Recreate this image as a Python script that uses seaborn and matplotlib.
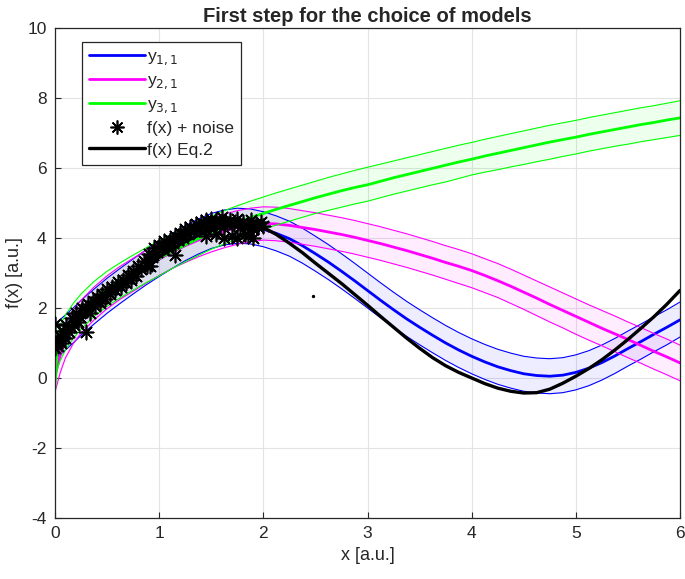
import matplotlib
matplotlib.use("Agg")
import matplotlib.pyplot as plt
from matplotlib.lines import Line2D
import pandas as pd
import seaborn as sns

x_grid = [0.0, 0.02, 0.05, 0.1, 0.175,
          0.25, 0.375, 0.5, 0.625, 0.75, 0.875, 1.0, 1.125, 1.25, 1.375,
          1.5, 1.625, 1.75, 1.875, 2.0, 2.125, 2.25, 2.375, 2.5, 2.625,
          2.75, 2.875, 3.0, 3.125, 3.25, 3.375, 3.5, 3.625, 3.75, 3.875,
          4.0, 4.125, 4.25, 4.375, 4.5, 4.625, 4.75, 4.875, 5.0, 5.125,
          5.25, 5.375, 5.5, 5.625, 5.75, 5.875, 6.0]

# model y_1,1 (blue) and its band
y11 = [1.05, 1.1, 1.17, 1.3, 1.5,
       1.72, 2.04, 2.35, 2.63, 2.9, 3.16, 3.4, 3.63, 3.85, 4.04,
       4.2, 4.3, 4.35, 4.33, 4.25, 4.13, 3.98, 3.78, 3.55, 3.31,
       3.05, 2.78, 2.5, 2.22, 1.95, 1.69, 1.45, 1.22, 1.0, 0.8,
       0.62, 0.46, 0.32, 0.21, 0.12, 0.07, 0.05, 0.08, 0.16, 0.28,
       0.44, 0.63, 0.84, 1.04, 1.25, 1.45, 1.66]
y11_hi = [1.55, 1.6, 1.67, 1.8, 2.0,
          2.22, 2.54, 2.85, 3.13, 3.4, 3.66, 3.9, 4.13, 4.35, 4.54,
          4.7, 4.8, 4.85, 4.83, 4.75, 4.63, 4.48, 4.28, 4.05, 3.81,
          3.55, 3.28, 3.0, 2.72, 2.45, 2.19, 1.95, 1.72, 1.5, 1.3,
          1.12, 0.96, 0.82, 0.71, 0.62, 0.57, 0.55, 0.58, 0.66, 0.78,
          0.94, 1.13, 1.34, 1.54, 1.75, 1.95, 2.17]
y11_lo = [0.55, 0.6, 0.67, 0.8, 1.0,
          1.22, 1.54, 1.85, 2.13, 2.4, 2.66, 2.9, 3.13, 3.35, 3.54,
          3.7, 3.8, 3.85, 3.83, 3.75, 3.63, 3.48, 3.28, 3.05, 2.81,
          2.55, 2.28, 2.0, 1.72, 1.45, 1.19, 0.95, 0.72, 0.5, 0.3,
          0.12, -0.04, -0.18, -0.29, -0.38, -0.43, -0.45, -0.42, -0.34, -0.22,
          -0.06, 0.13, 0.34, 0.54, 0.75, 0.95, 1.17]

# model y_2,1 (magenta)
y21 = [0.05, 0.3, 0.65, 1.05, 1.45,
       1.75, 2.13, 2.45, 2.72, 2.95, 3.18, 3.4, 3.6, 3.78, 3.94,
       4.08, 4.2, 4.3, 4.37, 4.42, 4.4, 4.36, 4.3, 4.24, 4.17,
       4.1, 4.02, 3.93, 3.84, 3.74, 3.64, 3.53, 3.42, 3.3, 3.19,
       3.07, 2.93, 2.78, 2.62, 2.45, 2.28, 2.1, 1.93, 1.76, 1.59,
       1.42, 1.26, 1.1, 0.93, 0.76, 0.6, 0.43]
y21_hi = [0.55, 0.8, 1.15, 1.55, 1.94,
          2.22, 2.6, 2.92, 3.19, 3.42, 3.65, 3.87, 4.07, 4.25, 4.42,
          4.56, 4.68, 4.78, 4.85, 4.89, 4.88, 4.84, 4.78, 4.72, 4.65,
          4.58, 4.5, 4.41, 4.32, 4.22, 4.12, 4.01, 3.9, 3.78, 3.67,
          3.55, 3.41, 3.27, 3.11, 2.94, 2.77, 2.6, 2.43, 2.26, 2.09,
          1.93, 1.77, 1.6, 1.44, 1.27, 1.11, 0.94]
y21_lo = [-0.4, -0.18, 0.15, 0.57, 0.98,
          1.28, 1.66, 1.98, 2.25, 2.48, 2.71, 2.93, 3.13, 3.3, 3.46,
          3.6, 3.72, 3.82, 3.89, 3.94, 3.92, 3.88, 3.82, 3.76, 3.69,
          3.62, 3.54, 3.45, 3.36, 3.26, 3.16, 3.05, 2.94, 2.82, 2.7,
          2.58, 2.44, 2.3, 2.13, 1.96, 1.78, 1.6, 1.43, 1.25, 1.08,
          0.92, 0.75, 0.58, 0.42, 0.25, 0.09, -0.08]

# model y_3,1 (green)
y31 = [0.0, 0.75, 1.0, 1.3, 1.63,
       1.9, 2.26, 2.55, 2.79, 3.01, 3.22, 3.42, 3.62, 3.8, 3.98,
       4.15, 4.3, 4.45, 4.58, 4.7, 4.82, 4.93, 5.04, 5.15, 5.25,
       5.35, 5.44, 5.52, 5.62, 5.72, 5.81, 5.9, 5.99, 6.08, 6.17,
       6.25, 6.34, 6.42, 6.5, 6.58, 6.66, 6.74, 6.81, 6.88, 6.96,
       7.03, 7.1, 7.17, 7.24, 7.3, 7.37, 7.43]
y31_hi = [0.5, 1.25, 1.5, 1.8, 2.13,
          2.4, 2.76, 3.05, 3.29, 3.51, 3.72, 3.92, 4.11, 4.28, 4.46,
          4.62, 4.78, 4.92, 5.05, 5.17, 5.29, 5.4, 5.51, 5.62, 5.73,
          5.83, 5.93, 6.02, 6.11, 6.2, 6.29, 6.38, 6.47, 6.56, 6.65,
          6.73, 6.82, 6.9, 6.98, 7.06, 7.14, 7.22, 7.29, 7.36, 7.44,
          7.51, 7.58, 7.65, 7.72, 7.78, 7.85, 7.92]
y31_lo = [-0.5, 0.25, 0.5, 0.8, 1.13,
          1.4, 1.76, 2.05, 2.29, 2.51, 2.72, 2.92, 3.13, 3.32, 3.5,
          3.68, 3.83, 3.98, 4.12, 4.25, 4.37, 4.48, 4.59, 4.7, 4.79,
          4.88, 4.97, 5.05, 5.15, 5.25, 5.34, 5.43, 5.52, 5.6, 5.7,
          5.8, 5.88, 5.95, 6.03, 6.1, 6.18, 6.25, 6.33, 6.4, 6.48,
          6.55, 6.62, 6.68, 6.75, 6.81, 6.87, 6.93]

# f(x) Eq.2 (black)
f_eq2 = [0.85, 0.92, 1.0, 1.2, 1.45,
         1.7, 2.03, 2.35, 2.65, 2.95, 3.2, 3.45, 3.68, 3.9, 4.08,
         4.25, 4.35, 4.4, 4.38, 4.3, 4.1, 3.85, 3.58, 3.28, 2.99,
         2.7, 2.39, 2.08, 1.76, 1.45, 1.14, 0.85, 0.58, 0.35, 0.16,
         0.0, -0.16, -0.29, -0.38, -0.43, -0.42, -0.32, -0.15, 0.05, 0.27,
         0.52, 0.8, 1.1, 1.42, 1.75, 2.11, 2.5]

# noisy samples
x_noise = [0.0, 0.0, 0.02, 0.03, 0.05, 0.06, 0.08, 0.1, 0.11, 0.13, 0.15, 0.16, 0.18, 0.2,
           0.22, 0.24, 0.26, 0.3, 0.3, 0.32, 0.34, 0.36, 0.38, 0.4, 0.43, 0.45, 0.48, 0.5,
           0.53, 0.55, 0.58, 0.6, 0.63, 0.65, 0.68, 0.7, 0.73, 0.75, 0.78, 0.8, 0.83, 0.85,
           0.88, 0.9, 0.91, 0.93, 0.94, 0.95, 0.98, 1.0, 1.03, 1.05, 1.08, 1.1, 1.13, 1.15,
           1.15, 1.18, 1.2, 1.23, 1.25, 1.28, 1.3, 1.33, 1.35, 1.38, 1.4, 1.43, 1.45, 1.45,
           1.48, 1.5, 1.53, 1.55, 1.55, 1.58, 1.6, 1.62, 1.63, 1.65, 1.68, 1.7, 1.72, 1.75,
           1.75, 1.78, 1.8, 1.82, 1.85, 1.85, 1.88, 1.9, 1.9, 1.93, 1.95, 1.98, 2.0]
y_noise = [1.55, 0.85, 1.05, 0.9, 1.2, 1.0, 1.35, 1.15, 1.5, 1.3, 1.45, 1.7, 1.5, 1.85,
           1.6, 1.75, 2.0, 1.3, 1.95, 2.1, 1.85, 2.2, 2.05, 2.3, 2.15, 2.4, 2.25, 2.55,
           2.4, 2.6, 2.5, 2.75, 2.6, 2.8, 2.7, 2.95, 2.8, 3.05, 2.9, 3.2, 3.1, 3.35,
           3.2, 3.55, 3.2, 3.45, 3.5, 3.7, 3.6, 3.8, 3.7, 3.9, 3.75, 3.95, 3.85, 3.5,
           4.05, 3.95, 4.15, 4.0, 4.25, 4.1, 4.3, 4.2, 4.4, 4.25, 4.45, 4.3, 4.5, 4.05,
           4.35, 4.55, 4.4, 4.5, 4.1, 4.35, 4.6, 4.0, 4.45, 4.4, 4.5, 4.05, 4.4, 4.55,
           4.0, 4.3, 4.45, 4.1, 4.35, 4.05, 4.5, 4.25, 4.0, 4.4, 4.3, 4.45, 4.35]

# lone stray dot
x_dot = [2.48]
y_dot = [2.34]

blue = (0, 0, 1)
magenta = (1, 0, 1)
green = (0, 1, 0)

sns.set_theme(style="whitegrid")
plt.rcParams['font.family'] = ['Liberation Sans', 'DejaVu Sans']
plt.rcParams['axes.unicode_minus'] = False

fig = plt.figure(figsize=(6.85, 5.79), dpi=100)
ax = fig.add_axes([0.0803, 0.1054, 0.9124, 0.8463])

df = pd.DataFrame({"x": x_grid,
                   "y11": y11, "y11_hi": y11_hi, "y11_lo": y11_lo,
                   "y21": y21, "y21_hi": y21_hi, "y21_lo": y21_lo,
                   "y31": y31, "y31_hi": y31_hi, "y31_lo": y31_lo,
                   "f": f_eq2})

# bands + models
for key, col in [("y11", blue), ("y21", magenta), ("y31", green)]:
    ax.fill_between(df["x"], df[key + "_lo"], df[key + "_hi"], color=col, alpha=0.07, lw=0)
    sns.lineplot(data=df, x="x", y=key + "_hi", color=col, lw=0.8, sort=False, ax=ax)
    sns.lineplot(data=df, x="x", y=key + "_lo", color=col, lw=0.8, sort=False, ax=ax)
    sns.lineplot(data=df, x="x", y=key, color=col, lw=2.0, sort=False, ax=ax)

sns.lineplot(data=df, x="x", y="f", color="black", lw=2.4, sort=False, ax=ax)

noise = pd.DataFrame({"x": x_noise, "y": y_noise})
sns.scatterplot(data=noise, x="x", y="y", marker=(8, 2, 0), s=105, color="black",
                linewidth=1.2, ax=ax, zorder=5)
ax.scatter(x_dot, y_dot, s=2, color="black")

ax.set_xlim(0, 6)
ax.set_ylim(-4, 10)
ax.set_xticks(range(0, 7))
ax.set_yticks(range(-4, 11, 2))
ax.grid(True, color="#e3e3e3", lw=0.8)
for s in ax.spines.values():
    s.set_color("#262626")
    s.set_linewidth(0.9)
ax.tick_params(direction="in", length=4, width=0.8, colors="#262626", labelsize=12.5,
               bottom=True, left=True, pad=6)
ax.set_xlabel("x [a.u.]", fontsize=13, color="#262626", labelpad=4)
ax.set_ylabel("f(x) [a.u.]", fontsize=13, color="#262626", labelpad=3)
ax.set_title("First step for the choice of models", fontsize=14.5, fontweight="bold", pad=4)

handles = [Line2D([], [], color=blue, lw=2.0),
           Line2D([], [], color=magenta, lw=2.0),
           Line2D([], [], color=green, lw=2.0),
           Line2D([], [], color="black", lw=0, marker=(8, 2, 0), markersize=10, markeredgewidth=1.2),
           Line2D([], [], color="black", lw=2.4)]
labels = ["y$_{1,1}$", "y$_{2,1}$", "y$_{3,1}$", "f(x) + noise", "f(x) Eq.2"]
leg = ax.legend(handles, labels, loc="upper left", bbox_to_anchor=(0.03, 0.99),
                fontsize=12.5, handlelength=3.2, handletextpad=0.1, borderpad=0.4,
                labelspacing=0.35, frameon=True, fancybox=False, framealpha=1)
leg.get_frame().set_edgecolor("#262626")
leg.get_frame().set_linewidth(0.9)

fig.savefig("out.png", dpi=100)
